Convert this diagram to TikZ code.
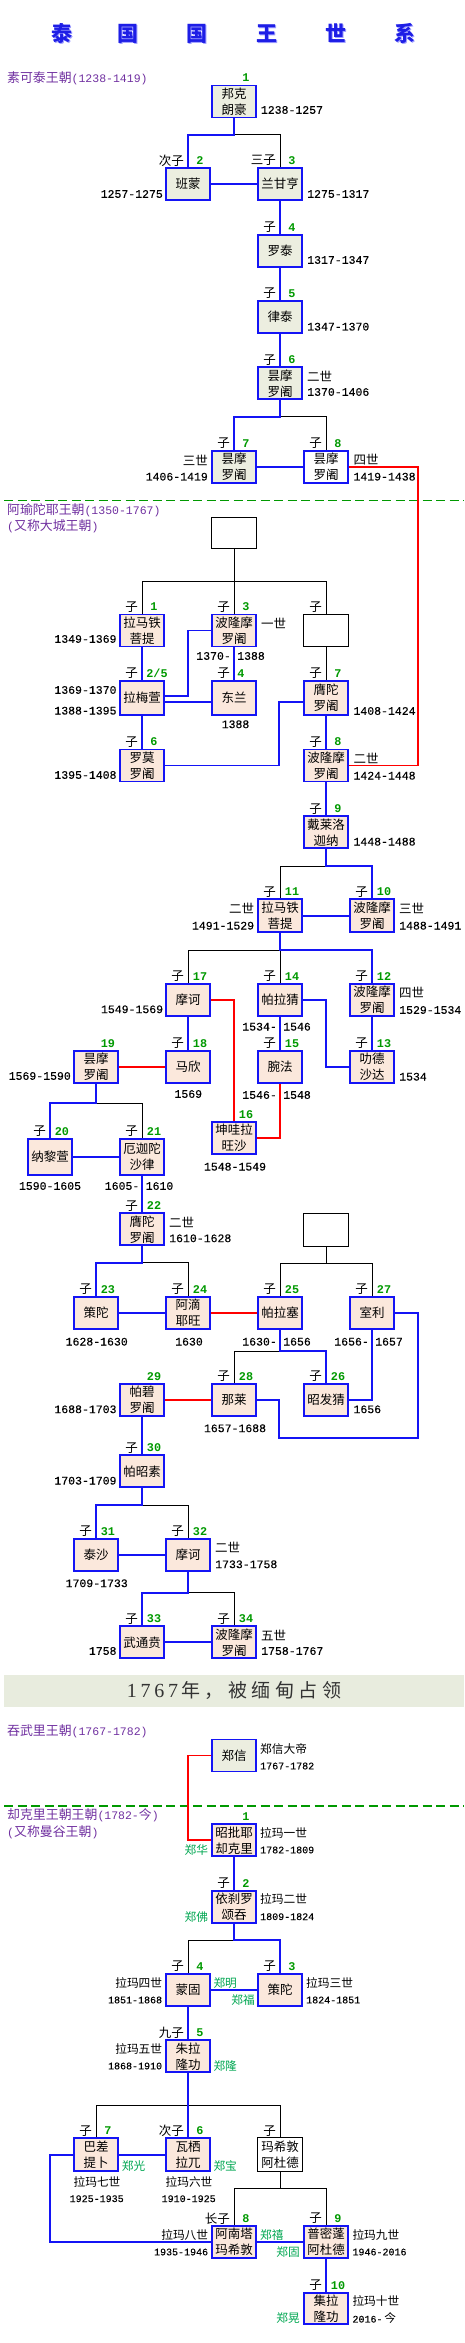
\documentclass[tikz,border=0pt]{standalone}
\usepackage{fontspec}
\newfontfamily\cjk{Noto Sans CJK SC}
\newfontfamily\mono{Liberation Mono}[FakeBold=0.25]
\newfontfamily\monob{Liberation Mono}
\newfontfamily\serifd{Liberation Serif}
\usetikzlibrary{calc}
\definecolor{kblue}{RGB}{20,20,245}
\definecolor{kred}{RGB}{255,0,0}
\definecolor{sage}{RGB}{236,238,224}
\definecolor{peach}{RGB}{251,232,220}
\definecolor{numgreen}{RGB}{0,153,0}
\definecolor{namegreen}{RGB}{0,166,81}
\definecolor{dyn}{RGB}{112,48,160}
\definecolor{dashgreen}{RGB}{0,153,0}
\definecolor{bannerbg}{RGB}{232,236,222}
\definecolor{titleblue}{RGB}{30,30,230}
\definecolor{titleshadow}{RGB}{160,160,255}
\newcommand\bxf{\cjk\fontsize{12.5}{16}\selectfont}
\newcommand\lbf{\cjk\fontsize{12.5}{15}\selectfont}
\newcommand\clbf{\cjk\fontsize{11.7}{14}\selectfont}
\newcommand\yrf{\mono\fontsize{11.5}{14}\selectfont}
\newcommand\dyrf{\monob\fontsize{11.5}{14}\selectfont}
\newcommand\cyrf{\mono\fontsize{10}{12}\selectfont}
\newcommand\nmf{\monob\bfseries\fontsize{11.8}{14}\selectfont}
\newcommand\dyf{\cjk\fontsize{12.9}{15}\selectfont}
\newcommand\ttf{\cjk\bfseries\fontsize{21}{21}\selectfont}
\tikzset{
 bx/.style={draw=kblue,line width=1.9pt,minimum width=44.5pt,minimum height=32pt,inner sep=0pt,align=center,font=\bxf},
 sk/.style={bx,fill=sage},
 ay/.style={bx,fill=peach},
 wh/.style={bx,fill=white},
 eb/.style={draw=black,line width=0.9pt,fill=white,minimum width=45.5pt,minimum height=32.5pt,inner sep=0pt,align=center,font=\bxf},
 bl/.style={kblue,line width=1.9pt},
 bk/.style={black,line width=0.9pt},
 rd/.style={kred,line width=1.9pt},
 num/.style={text=numgreen,font=\nmf,inner sep=0pt},
 zi/.style={font=\lbf,inner sep=0pt,anchor=east},
 yr/.style={font=\yrf,inner sep=0pt},
 cy/.style={font=\cyrf,inner sep=0pt},
 lb/.style={font=\lbf,inner sep=0pt},
 cl/.style={font=\clbf,inner sep=0pt},
 gn/.style={font=\clbf,text=namegreen,inner sep=0pt},
 dy/.style={font=\dyf,text=dyn,inner sep=0pt,anchor=west},
 gdash/.style={dashgreen,line width=1.4pt,dash pattern=on 9pt off 4.5pt},
 tt/.style={font=\ttf,text=titleblue,inner sep=0pt},
 tts/.style={font=\ttf,text=titleshadow,inner sep=0pt},
}
\newcommand\Zi[2]{\node[zi] (#1z) at ([xshift=-4pt,yshift=6.5pt]#1.north) {#2};}
\newcommand\Nu[3][12]{\node[num] (#2n) at ([xshift=#1pt,yshift=6.5pt]#2.north) {#3};}
\newcommand\T[5]{\node[#1,anchor=#2] (#3) at (#4) {#5};}
\begin{document}
\begin{tikzpicture}[x=1pt,y=-1pt]
\useasboundingbox (0,0) rectangle (464,2343);
% ---------- title
\foreach \c/\xx [count=\i] in {泰/62,国/128,国/197,王/267,世/336,系/405}{
  \node[tts] (ts\i) at (\xx+1,34.5) {\c};
  \node[tt] (t\i) at (\xx,33.5) {\c};
}
% ---------- Sukhothai
\node[dy] (d1) at (7,78) {素可泰王朝{\dyrf(1238-1419)}};
\node[sk] (S1) at (234,101.5) {邦克\\朗豪};
\node[sk] (S2) at (188,184) {班蒙};
\node[sk] (S3) at (280,184) {兰甘亨};
\node[sk] (S4) at (280,251) {罗泰};
\node[sk] (S5) at (280,317) {律泰};
\node[sk] (S6) at (280,383.3) {昙摩\\罗阇};
\node[sk] (S7) at (234,467) {昙摩\\罗阇};
\node[wh] (S8) at (326,467) {昙摩\\罗阇};
\Nu{S1}{1}
\Zi{S2}{次子}\Nu{S2}{2}
\Zi{S3}{三子}\Nu{S3}{3}
\Zi{S4}{子}\Nu{S4}{4}
\Zi{S5}{子}\Nu{S5}{5}
\Zi{S6}{子}\Nu{S6}{6}
\Zi{S7}{子}\Nu{S7}{7}
\Zi{S8}{子}\Nu{S8}{8}
\T{yr}{west}{yS1}{260.7,110}{1238-1257}
\T{yr}{east}{yS2}{163,194}{1257-1275}
\T{yr}{west}{yS3}{307,194}{1275-1317}
\T{yr}{west}{yS4}{307,260}{1317-1347}
\T{yr}{west}{yS5}{307,326.7}{1347-1370}
\T{lb}{west}{gS6}{307,376.7}{二世}
\T{yr}{west}{yS6}{307,392}{1370-1406}
\T{lb}{east}{gS7}{208,460}{三世}
\T{yr}{east}{yS7}{208,476.7}{1406-1419}
\T{lb}{west}{gS8}{353.3,460}{四世}
\T{yr}{west}{yS8}{353.3,476.7}{1419-1438}
% ---------- Ayutthaya
\coordinate (dl1) at (4,500.7); \coordinate (dr1) at (464,500.7);
\node[dy] (d2) at (7,510) {阿瑜陀耶王朝{\dyrf(1350-1767)}};
\node[dy] (d2b) at (7,526) {{\dyrf(}又称大城王朝{\dyrf)}};
\node[eb,minimum height=31.3pt] (E1) at (234,533.2) {};
\node[ay] (A1) at (142,630.5) {拉马铁\\菩提};
\node[ay] (A3) at (234,630.5) {波隆摩\\罗阇};
\node[eb,minimum height=32.3pt] (E2) at (326,630.7) {};
\node[ay,minimum height=34.5pt] (A2) at (142,698) {拉梅萱};
\node[ay,minimum height=34.5pt] (A4) at (234,698) {东兰};
\node[ay,minimum height=34.5pt] (A7) at (326,698) {膺陀\\罗阇};
\node[ay] (A6) at (142,765.5) {罗莫\\罗阇};
\node[ay] (A8) at (326,765.5) {波隆摩\\罗阇};
\node[ay] (A9) at (326,832.3) {戴莱洛\\迦纳};
\node[ay,minimum height=33pt] (A11) at (280,915.8) {拉马铁\\菩提};
\node[ay,minimum height=33pt] (A10) at (372,915.8) {波隆摩\\罗阇};
\node[ay] (A17) at (188,999.7) {摩诃};
\node[ay] (A14) at (280,999.7) {帕拉猜};
\node[ay] (A12) at (372,999.7) {波隆摩\\罗阇};
\node[ay] (A19) at (96,1066.8) {昙摩\\罗阇};
\node[ay] (A18) at (188,1066.8) {马欣};
\node[ay] (A15) at (280,1066.8) {腕法};
\node[ay] (A13) at (372,1066.8) {叻德\\沙达};
\node[ay] (A16) at (234,1137.8) {坤哇拉\\旺沙};
\node[ay,minimum height=36pt] (A20) at (50,1156.7) {纳黎萱};
\node[ay,minimum height=36pt] (A21) at (142,1156.7) {厄迦陀\\沙律};
\node[ay] (A22) at (142,1229.3) {膺陀\\罗阇};
\node[eb,minimum height=32.4pt] (E3) at (326,1230) {};
\node[ay] (A23) at (96,1312.8) {策陀};
\node[ay] (A24) at (188,1312.8) {阿滴\\耶旺};
\node[ay] (A25) at (280,1312.8) {帕拉塞};
\node[ay] (A27) at (372,1312.8) {室利};
\node[ay] (A29) at (142,1399.8) {帕碧\\罗阇};
\node[ay] (A28) at (234,1399.8) {那莱};
\node[ay] (A26) at (326,1399.8) {昭发猜};
\node[ay] (A30) at (142,1471.3) {帕昭素};
\node[ay] (A31) at (96,1554.7) {泰沙};
\node[ay] (A32) at (188,1554.7) {摩诃};
\node[ay] (A33) at (142,1642.3) {武通贲};
\node[ay] (A34) at (234,1642.3) {波隆摩\\罗阇};
% labels
\Zi{A1}{子}\Nu{A1}{1}
\Zi{A3}{子}\Nu{A3}{3}
\Zi{E2}{子}
\Zi{A2}{子}\Nu[15]{A2}{2/5}
\Zi{A4}{子}\Nu[7]{A4}{4}
\Zi{A7}{子}\Nu{A7}{7}
\Zi{A6}{子}\Nu{A6}{6}
\Zi{A8}{子}\Nu{A8}{8}
\Zi{A9}{子}\Nu{A9}{9}
\Zi{A11}{子}\Nu{A11}{11}
\Zi{A10}{子}\Nu{A10}{10}
\Zi{A17}{子}\Nu{A17}{17}
\Zi{A14}{子}\Nu{A14}{14}
\Zi{A12}{子}\Nu{A12}{12}
\Nu{A19}{19}
\Zi{A18}{子}\Nu{A18}{18}
\Zi{A15}{子}\Nu{A15}{15}
\Zi{A13}{子}\Nu{A13}{13}
\Nu{A16}{16}
\Zi{A20}{子}\Nu{A20}{20}
\Zi{A21}{子}\Nu{A21}{21}
\Zi{A22}{子}\Nu{A22}{22}
\Zi{A23}{子}\Nu{A23}{23}
\Zi{A24}{子}\Nu{A24}{24}
\Zi{A25}{子}\Nu{A25}{25}
\Zi{A27}{子}\Nu{A27}{27}
\Nu{A29}{29}
\Zi{A28}{子}\Nu{A28}{28}
\Zi{A26}{子}\Nu{A26}{26}
\Zi{A30}{子}\Nu{A30}{30}
\Zi{A31}{子}\Nu{A31}{31}
\Zi{A32}{子}\Nu{A32}{32}
\Zi{A33}{子}\Nu{A33}{33}
\Zi{A34}{子}\Nu{A34}{34}
% years
\T{yr}{east}{yA1}{116.7,639}{1349-1369}
\T{lb}{west}{gA3}{261,623.3}{一世}
\T{yr}{east}{yA3a}{231,656}{1370-}
\T{yr}{west}{yA3b}{237,656}{1388}
\T{yr}{east}{yA2a}{116.7,690}{1369-1370}
\T{yr}{east}{yA2b}{116.7,710.7}{1388-1395}
\T{yr}{center}{yA4}{235.5,724.3}{1388}
\T{yr}{west}{yA7}{353.3,711}{1408-1424}
\T{yr}{east}{yA6}{116.7,775}{1395-1408}
\T{lb}{west}{gA8}{353.3,758.3}{二世}
\T{yr}{west}{yA8}{353.3,775.7}{1424-1448}
\T{yr}{west}{yA9}{353.3,841.7}{1448-1488}
\T{lb}{east}{gA11}{254.3,908.3}{二世}
\T{yr}{east}{yA11}{254.3,925.7}{1491-1529}
\T{lb}{west}{gA10}{399,908.3}{三世}
\T{yr}{west}{yA10}{399,925.7}{1488-1491}
\T{yr}{east}{yA17}{163.3,1009.3}{1549-1569}
\T{yr}{east}{yA14a}{277,1026.7}{1534-}
\T{yr}{west}{yA14b}{283,1026.7}{1546}
\T{lb}{west}{gA12}{399,992.3}{四世}
\T{yr}{west}{yA12}{399,1010}{1529-1534}
\T{yr}{east}{yA19}{71,1076}{1569-1590}
\T{yr}{center}{yA18}{188.3,1094}{1569}
\T{yr}{east}{yA15a}{277,1095}{1546-}
\T{yr}{west}{yA15b}{283,1095}{1548}
\T{yr}{west}{yA13}{399,1076.7}{1534}
\T{yr}{center}{yA16}{235,1166.7}{1548-1549}
\T{yr}{center}{yA20}{50,1186}{1590-1605}
\T{yr}{east}{yA21a}{139.5,1186}{1605-}
\T{yr}{west}{yA21b}{145.5,1186}{1610}
\T{lb}{west}{gA22}{169,1222.3}{二世}
\T{yr}{west}{yA22}{169,1238.3}{1610-1628}
\T{yr}{center}{yA23}{96.7,1341.7}{1628-1630}
\T{yr}{center}{yA24}{189,1341.7}{1630}
\T{yr}{east}{yA25a}{277,1341.7}{1630-}
\T{yr}{west}{yA25b}{283,1341.7}{1656}
\T{yr}{east}{yA27a}{369,1341.7}{1656-}
\T{yr}{west}{yA27b}{375,1341.7}{1657}
\T{yr}{west}{yA26}{353.3,1409.3}{1656}
\T{yr}{center}{yA28}{235,1428.3}{1657-1688}
\T{yr}{east}{yA29}{116.7,1409.3}{1688-1703}
\T{yr}{east}{yA30}{116.7,1480.7}{1703-1709}
\T{yr}{center}{yA31}{96.7,1583.3}{1709-1733}
\T{lb}{west}{gA32}{215,1547.7}{二世}
\T{yr}{west}{yA32}{215,1564.3}{1733-1758}
\T{yr}{east}{yA33}{116.7,1651}{1758}
\T{lb}{west}{gA34}{261,1635.7}{五世}
\T{yr}{west}{yA34}{261,1651}{1758-1767}
% ---------- banner
\node[fill=bannerbg,minimum width=460pt,minimum height=31.7pt,inner sep=0pt,text=black!80] (ban) at (234,1690.8)
 {{\serifd\fontsize{20}{20}\selectfont 1\kern3.7pt7\kern3.7pt6\kern3.7pt7}\kern3pt{\cjk\fontsize{19}{20}\selectfont 年\kern4.5pt，\kern4.5pt被\kern4.5pt缅\kern4.5pt甸\kern4.5pt占\kern4.5pt领}};
% ---------- Thonburi
\node[dy] (d3) at (7,1731.7) {吞武里王朝{\dyrf(1767-1782)}};
\node[sk] (T) at (234,1755.5) {郑信};
\T{cl}{west}{gT}{260,1749.3}{郑信大帝}
\T{cy}{west}{yT}{260,1766}{1767-1782}
% ---------- Chakri
\coordinate (dl2) at (4,1806); \coordinate (dr2) at (464,1806);
\node[dy] (d4) at (7,1815.7) {却克里王朝王朝{\dyrf(1782-}今{\dyrf)}};
\node[dy] (d4b) at (7,1832.7) {{\dyrf(}又称曼谷王朝{\dyrf)}};
\node[ay] (R1) at (234,1840.3) {昭批耶\\却克里};
\node[ay] (R2) at (234,1906.7) {依刹罗\\颂吞};
\node[ay] (R4) at (188,1989.7) {蒙固};
\node[ay] (R3) at (280,1989.7) {策陀};
\node[ay] (R5) at (188,2056.3) {朱拉\\隆功};
\node[ay,minimum height=32.7pt] (R7) at (96,2154.7) {巴差\\提卜};
\node[ay,minimum height=32.7pt] (R6) at (188,2154.7) {瓦栖\\拉兀};
\node[eb,minimum height=33.8pt] (M) at (280,2154.7) {玛希敦\\阿杜德};
\node[ay] (R8) at (234,2241.8) {阿南塔\\玛希敦};
\node[ay] (R9) at (326,2241.8) {普密蓬\\阿杜德};
\node[ay,minimum height=30.7pt] (R10) at (326,2308.3) {集拉\\隆功};
\Nu{R1}{1}
\Zi{R2}{子}\Nu{R2}{2}
\Zi{R4}{子}\Nu{R4}{4}
\Zi{R3}{子}\Nu{R3}{3}
\Zi{R5}{九子}\Nu{R5}{5}
\Zi{R7}{子}\Nu{R7}{7}
\Zi{R6}{次子}\Nu{R6}{6}
\Zi{M}{子}
\Zi{R8}{长子}\Nu{R8}{8}
\Zi{R9}{子}\Nu{R9}{9}
\Zi{R10}{子}\Nu{R10}{10}
\T{cl}{west}{gR1}{260,1833.3}{拉玛一世}
\T{cy}{west}{yR1}{260,1850}{1782-1809}
\T{gn}{east}{nR1}{208.3,1850}{郑华}
\T{cl}{west}{gR2}{260,1899.3}{拉玛二世}
\T{cy}{west}{yR2}{260,1916.7}{1809-1824}
\T{gn}{east}{nR2}{208.3,1916.7}{郑佛}
\T{cl}{east}{gR4}{162.3,1983.3}{拉玛四世}
\T{cy}{east}{yR4}{162.3,2000}{1851-1868}
\T{gn}{west}{nR4}{213.3,1983.3}{郑明}
\T{cl}{west}{gR3}{306,1983.3}{拉玛三世}
\T{cy}{west}{yR3}{306,2000}{1824-1851}
\T{gn}{east}{nR3}{255,2000}{郑福}
\T{cl}{east}{gR5}{162.3,2049.3}{拉玛五世}
\T{cy}{east}{yR5}{162.3,2066}{1868-1910}
\T{gn}{west}{nR5}{213.3,2066}{郑隆}
\T{gn}{west}{nR7}{121.7,2165.7}{郑光}
\T{cl}{center}{gR7}{97,2182}{拉玛七世}
\T{cy}{center}{yR7}{96.7,2198.7}{1925-1935}
\T{gn}{west}{nR6}{213.3,2165.7}{郑宝}
\T{cl}{center}{gR6}{189,2182}{拉玛六世}
\T{cy}{center}{yR6}{188.7,2198.7}{1910-1925}
\T{cl}{east}{gR8}{208.3,2234.7}{拉玛八世}
\T{cy}{east}{yR8}{208.3,2252}{1935-1946}
\T{gn}{west}{nR8}{260,2234.7}{郑禧}
\T{cl}{west}{gR9}{352.3,2234.7}{拉玛九世}
\T{cy}{west}{yR9}{352.3,2252}{1946-2016}
\T{gn}{east}{nR9}{300,2252}{郑固}
\T{cl}{west}{gR10}{352.3,2301.3}{拉玛十世}
\T{cl}{west}{yR10}{352.3,2318}{{\cyrf 2016-}\,今}
\T{gn}{east}{nR10}{300,2318}{郑晃}
% ================= connectors
\draw[gdash] (dl1) -- (dr1);
\draw[gdash] (dl2) -- (dr2);
% Sukhothai
\coordinate (jS1) at (234,134.7);
\draw[bk] (jS1) -| (S3.north);
\draw[bl] (S1.south) -- (jS1) -| (S2.north);
\draw[bl] (S2.east) -- (S3.west);
\draw[bl] (S3.south) -- (S4.north);
\draw[bl] (S4.south) -- (S5.north);
\draw[bl] (S5.south) -- (S6.north);
\coordinate (jS6) at (280,416.7);
\draw[bk] (jS6) -| (S8.north);
\draw[bl] (S6.south) -- (jS6) -| (S7.north);
\draw[bl] (S7.east) -- (S8.west);
\coordinate (rS) at (417.7,467);
\draw[rd] (S8.east) -- (rS) |- (A8.east);
% Ayutthaya
\coordinate (jE1) at (234,581.7);
\draw[bk] (E1.south) -- (A3.north);
\draw[bk] (A1.north) |- (jE1) -| (E2.north);
\draw[bk] (E2.south) -- (A7.north);
\draw[bl] (A1.south) -- (A2.north);
\draw[bl] (A3.south) -- (A4.north);
\coordinate (jA2a) at (188.3,695.7);
\coordinate (jA2b) at (188.3,630.5);
\draw[bl] ([yshift=2.3pt]A2.east) -- (jA2a) -- (jA2b) -- (A3.west);
\draw[bl] ([yshift=-3.7pt]A2.east) -- ([yshift=-3.7pt]A4.west);
\draw[bl] (A2.south) -- (A6.north);
\coordinate (jA6) at (279.3,765.5);
\draw[bl] (A6.east) -- (jA6) |- ([yshift=-3.7pt]A7.west);
\draw[bl] (A7.south) -- (A8.north);
\draw[bl] (A8.south) -- (A9.north);
\coordinate (jA9) at (326,866);
\draw[bk] (jA9) -| (A11.north);
\draw[bl] (A9.south) -- (jA9) -| (A10.north);
\draw[bl] (A11.east) -- (A10.west);
\coordinate (jA11) at (280,950);
\draw[bk] (jA11) -| (A17.north);
\draw[bk] (jA11) -- (A14.north);
\draw[bl] (A11.south) -- (jA11) -| (A12.north);
\draw[rd] (A17.east) -| (A16.north);
\coordinate (jA14) at (326,999.7);
\draw[bl] (A14.east) -- (jA14) |- (A13.west);
\draw[bl] (A17.south) -- (A18.north);
\draw[bl] (A14.south) -- (A15.north);
\draw[bl] (A12.south) -- (A13.north);
\draw[rd] (A19.east) -- (A18.west);
\draw[rd] (A15.south) |- (A16.east);
\coordinate (jA19) at (96,1103.3);
\draw[bk] (jA19) -| (A21.north);
\draw[bl] (A19.south) -- (jA19) -| (A20.north);
\draw[bl] (A20.east) -- (A21.west);
\draw[bl] (A21.south) -- (A22.north);
\coordinate (jA22) at (142,1262.7);
\draw[bk] (jA22) -| (A24.north);
\draw[bl] (A22.south) -- (jA22) -| (A23.north);
\draw[bl] (A23.east) -- (A24.west);
\draw[rd] (A24.east) -- (A25.west);
\coordinate (jE3) at (326,1263.3);
\draw[bk] (E3.south) -- (jE3);
\draw[bk] (A25.north) |- (jE3) -| (A27.north);
\coordinate (jA25) at (280,1351);
\draw[bk] (jA25) -| (A28.north);
\draw[bl] (A25.south) -- (jA25) -| (A26.north);
\coordinate (c1) at (417.7,1312.8);
\coordinate (c2) at (417.7,1437.7);
\coordinate (c3) at (279.3,1437.7);
\coordinate (c4) at (279.3,1399.8);
\draw[bl] (A27.east) -- (c1) -- (c2) -- (c3) -- (c4) -- (A28.east);
\draw[bl] (A27.south) |- (A26.east);
\draw[rd] (A29.east) -- (A28.west);
\draw[bl] (A29.south) -- (A30.north);
\coordinate (jA30) at (142,1505);
\draw[bk] (jA30) -| (A32.north);
\draw[bl] (A30.south) -- (jA30) -| (A31.north);
\draw[bl] (A31.east) -- (A32.west);
\coordinate (jA32) at (188,1592.7);
\draw[bk] (jA32) -| (A34.north);
\draw[bl] (A32.south) -- (jA32) -| (A33.north);
\draw[bl] (A33.east) -- (A34.west);
% Thonburi / Chakri
\coordinate (jT) at (188.3,1755.5);
\draw[rd] (T.west) -- (jT) |- (R1.west);
\draw[bl] (R1.south) -- (R2.north);
\coordinate (jR2) at (234,1940);
\draw[bk] (jR2) -| (R4.north);
\draw[bl] (R2.south) -- (jR2) -| (R3.north);
\draw[bl] (R4.east) -- (R3.west);
\draw[bl] (R4.south) -- (R5.north);
\coordinate (jR5) at (188,2105);
\draw[bk] (R7.north) |- (jR5) -| (M.north);
\draw[bl] (R5.south) -- (R6.north);
\draw[bl] (R7.east) -- (R6.west);
\coordinate (jM) at (280,2188);
\draw[bk] (M.south) -- (jM);
\draw[bk] (R8.north) |- (jM) -| (R9.north);
\coordinate (jR7) at (50,2154.7);
\draw[bl] (R7.west) -- (jR7) |- (R8.west);
\draw[bl] (R8.east) -- (R9.west);
\draw[bl] (R9.south) -- (R10.north);
\end{tikzpicture}
\end{document}
